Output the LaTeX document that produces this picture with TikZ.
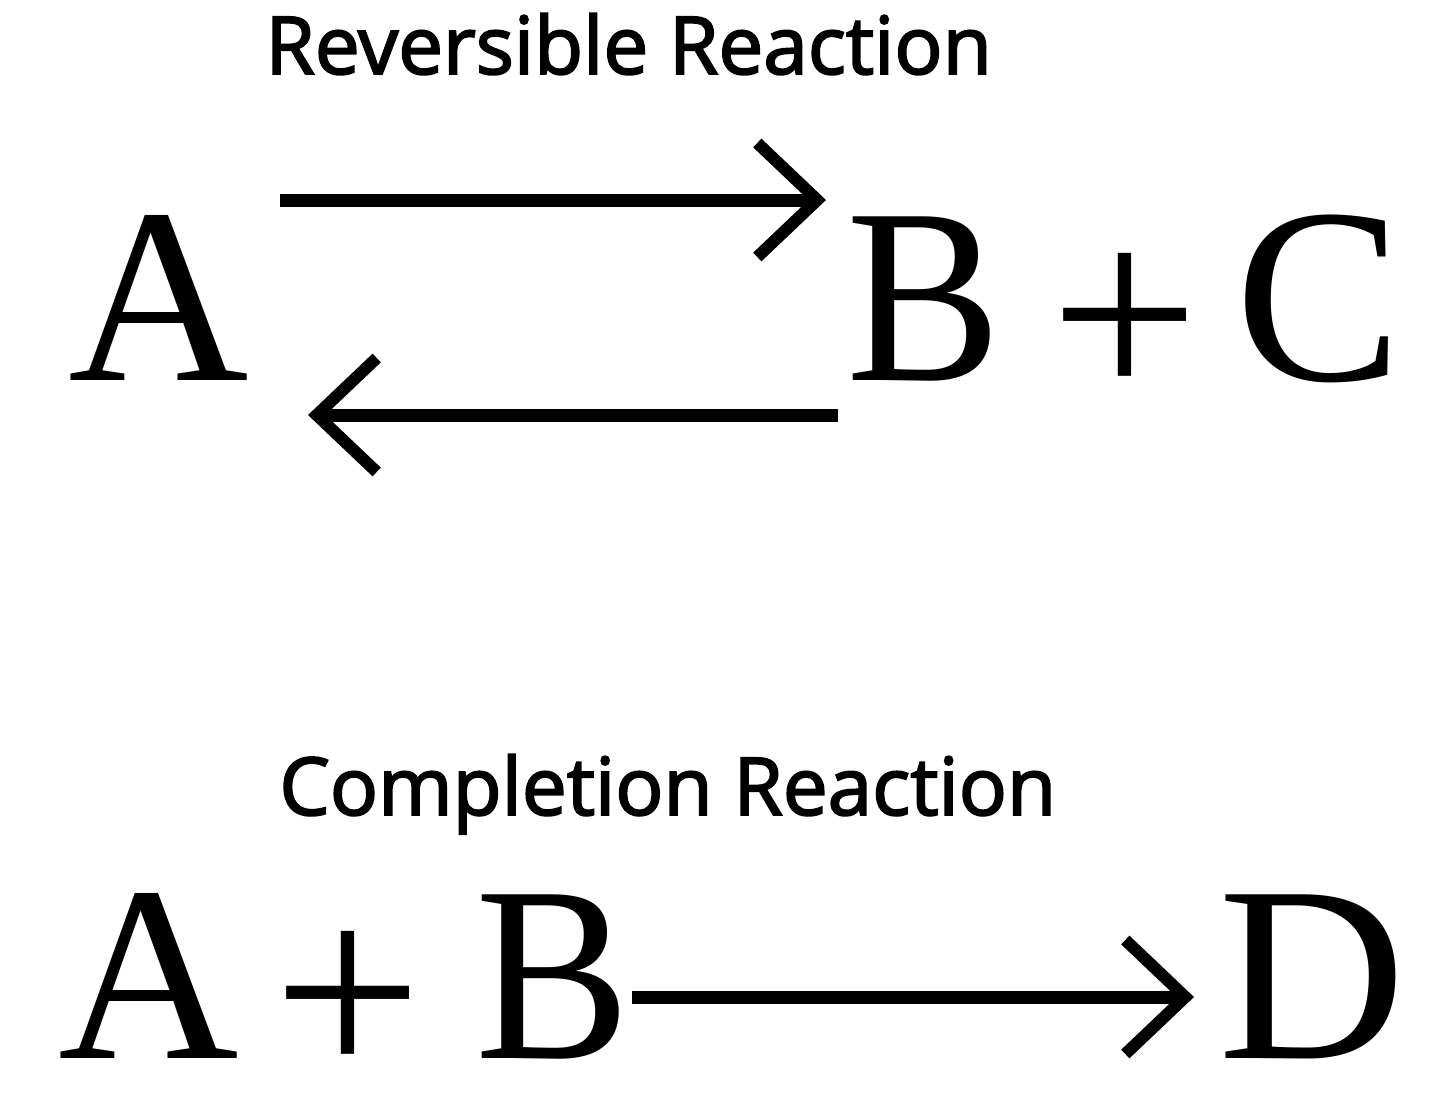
\documentclass[tikz,border=0pt]{standalone}
\usepackage{fontspec}
\setmainfont{Liberation Serif}
\newfontfamily\headfont[FakeBold=2.4]{Open Sans}
\usetikzlibrary{arrows.meta}
\tikzset{
  heading/.style={inner sep=0pt, anchor=base west, font=\headfont\fontsize{40}{44}\selectfont},
  species/.style={inner sep=0pt, anchor=base, font=\fontsize{125}{130}\selectfont},
  plussign/.style={inner sep=0pt, anchor=center, font=\fontsize{132}{134}\selectfont},
  rxn/.style={line width=6.5pt, -{Straight Barb[length=30pt, width=57pt, line width=6pt]}},
}
\begin{document}
\begin{tikzpicture}[x=0.5pt,y=-0.5pt]
\useasboundingbox[fill=white] (0,0) rectangle (1440,1103);
% Reversible reaction
\node[heading] (h1) at (265,74) {Reversible Reaction};
\node[species] (A1) at (159,380) {A};
\node[species, xscale=0.93] (B1) at (924,380) {B};
\node[plussign] (P1) at (1125,328) {+};
\node[species] (C1) at (1319,380) {C};
\coordinate (f1) at (280,200);
\coordinate (f2) at (826,200);
\coordinate (b1) at (838,415);
\coordinate (b2) at (308,415);
\draw[rxn] (f1) -- (f2);
\draw[rxn] (b1) -- (b2);
% Completion reaction
\node[heading] (h2) at (279,815) {Completion Reaction};
\node[species] (A2) at (149,1058) {A};
\node[plussign] (P2) at (348,1006) {+};
\node[species, xscale=0.93] (B2) at (553,1058) {B};
\node[species, xscale=1.04] (D2) at (1312,1058) {D};
\coordinate (c1) at (632,997);
\coordinate (c2) at (1194,997);
\draw[rxn] (c1) -- (c2);
\end{tikzpicture}
\end{document}
